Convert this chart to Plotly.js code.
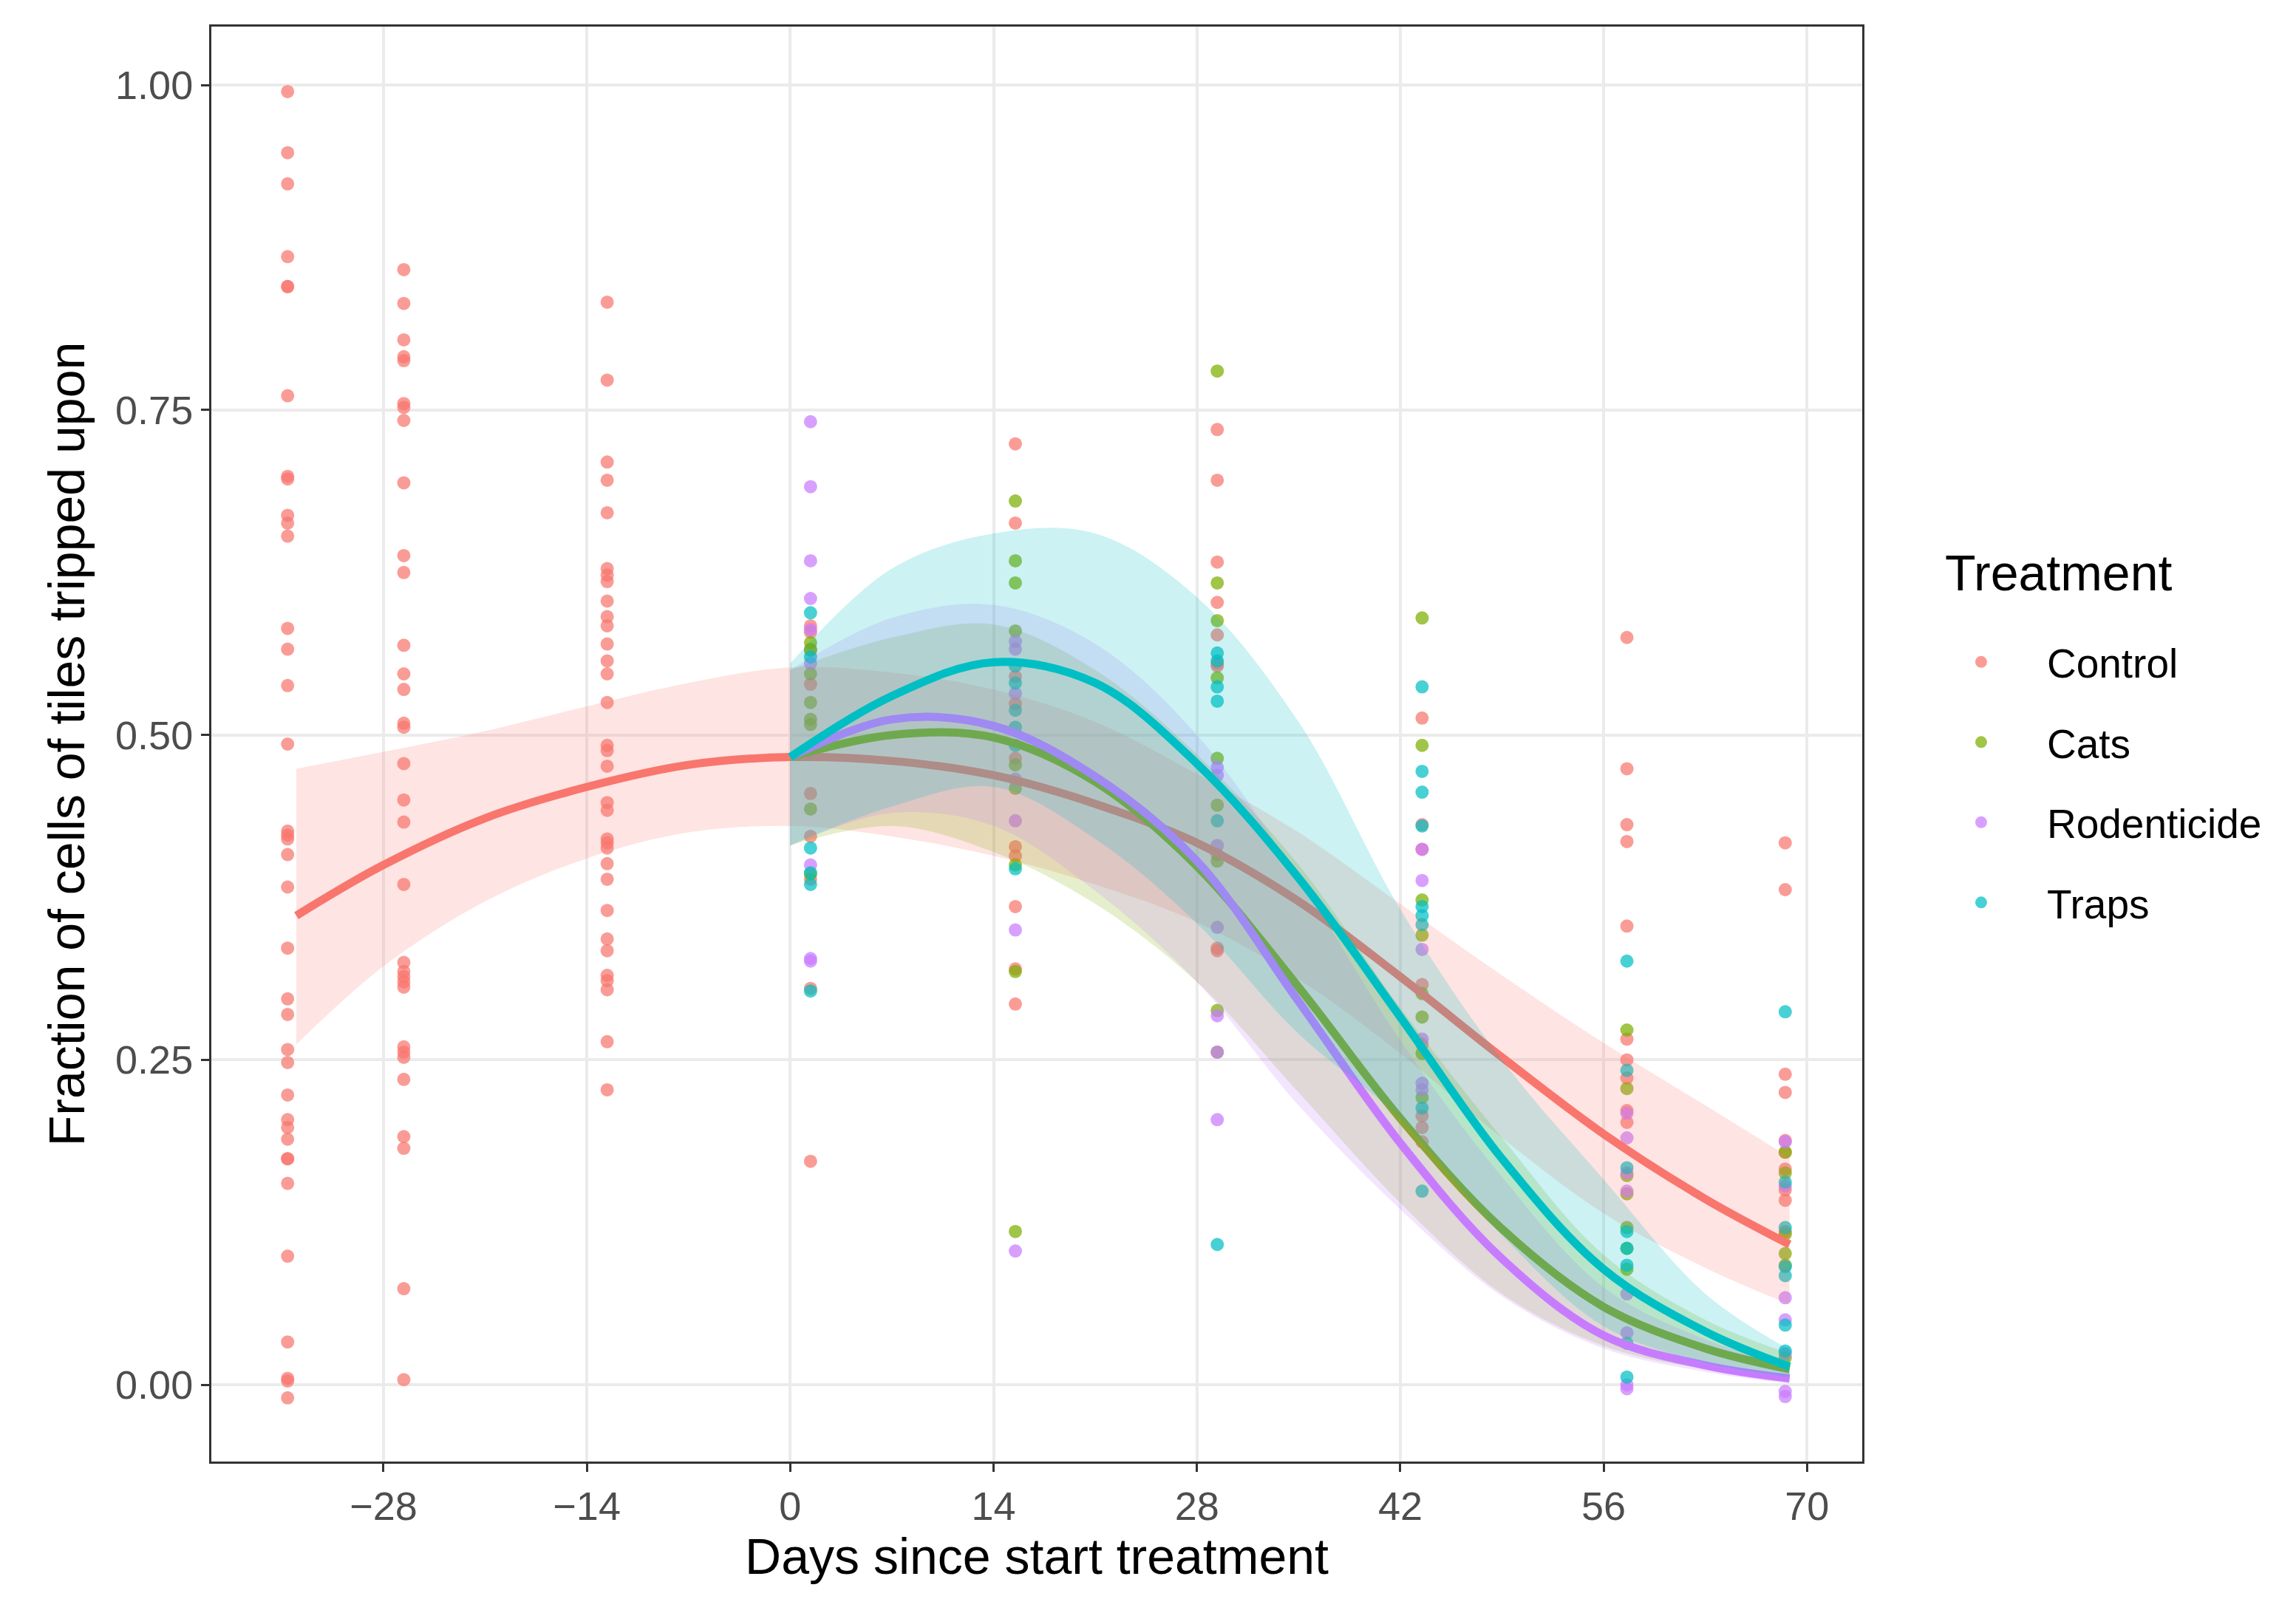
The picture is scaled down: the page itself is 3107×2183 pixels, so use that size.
<!DOCTYPE html>
<html>
<head>
<meta charset="utf-8">
<script src="https://cdn.plot.ly/plotly-3.0.1.min.js"></script>
<style>
  body { margin: 0; background: #fff; }
  #chart { width: 3107px; height: 2183px; }
</style>
</head>
<body>
<div id="chart"></div>
<script>
// sampling days (column centres of the point clouds)
const controlDays = [-34.6, -26.6, -12.6, 1.4, 15.5, 29.4, 43.5, 57.6, 68.5];
const treatDays = [1.4, 15.5, 29.4, 43.5, 57.6, 68.5];

// observed fractions, one list per sampling day
const controlObs = [
  [0.995,0.948,0.924,0.868,0.845,0.845,0.761,0.699,0.697,0.669,0.663,0.653,0.582,0.566,0.538,0.493,0.426,0.423,0.420,0.408,0.383,0.336,0.297,0.285,0.258,0.248,0.223,0.204,0.198,0.189,0.174,0.174,0.155,0.099,0.033,0.005,0.003,-0.010],
  [0.858,0.832,0.804,0.791,0.788,0.755,0.752,0.742,0.694,0.638,0.625,0.569,0.547,0.535,0.509,0.506,0.478,0.450,0.433,0.385,0.325,0.318,0.314,0.310,0.306,0.260,0.256,0.252,0.235,0.191,0.182,0.074,0.004],
  [0.833,0.773,0.710,0.696,0.671,0.628,0.623,0.618,0.603,0.591,0.584,0.570,0.557,0.547,0.525,0.492,0.488,0.476,0.448,0.442,0.420,0.417,0.413,0.401,0.389,0.365,0.343,0.334,0.315,0.311,0.304,0.264,0.227],
  [0.584,0.579,0.565,0.539,0.455,0.422,0.389,0.305,0.172],
  [0.724,0.663,0.545,0.524,0.482,0.414,0.407,0.368,0.320,0.293],
  [0.735,0.696,0.633,0.602,0.577,0.555,0.553,0.408,0.336,0.334],
  [0.513,0.431,0.412,0.308,0.262,0.207,0.198,0.187],
  [0.575,0.474,0.431,0.418,0.353,0.266,0.250,0.236,0.211,0.202],
  [0.417,0.381,0.239,0.225,0.188,0.179,0.166,0.150,0.142,0.118]
];
const catsObs = [
  [0.571,0.566,0.547,0.525,0.512,0.508,0.443,0.393],
  [0.680,0.634,0.617,0.580,0.477,0.459,0.400,0.318,0.118],
  [0.780,0.617,0.588,0.544,0.482,0.446,0.403,0.288,0.256],
  [0.590,0.492,0.373,0.346,0.301,0.283,0.255,0.221],
  [0.273,0.228,0.161,0.147,0.121,0.105,0.089],
  [0.179,0.163,0.116,0.101,0.092,0.021]
];
const rodentObs = [
  [0.741,0.691,0.634,0.605,0.581,0.555,0.400,0.328,0.326],
  [0.572,0.566,0.532,0.466,0.434,0.350,0.103],
  [0.475,0.469,0.415,0.352,0.284,0.256,0.204],
  [0.412,0.388,0.335,0.266,0.232,0.227],
  [0.209,0.190,0.163,0.149,0.070,0.040,0.000,-0.003],
  [0.187,0.153,0.067,0.050,0.024,-0.005,-0.009]
];
const trapsObs = [
  [0.594,0.560,0.488,0.413,0.394,0.385,0.303],
  [0.553,0.540,0.519,0.506,0.492,0.397],
  [0.563,0.557,0.537,0.526,0.434,0.108],
  [0.537,0.472,0.456,0.430,0.368,0.361,0.354,0.213,0.149],
  [0.326,0.242,0.167,0.118,0.105,0.092,0.032,0.006],
  [0.287,0.156,0.121,0.091,0.084,0.046,0.026]
];

// fitted curves and confidence bands
const controlFitDays = [-34,-28,-21,-14,-7,0,7,14,21,28,35,42,49,56,63,68.8];
const controlFit   = [0.361,0.400,0.436,0.460,0.477,0.483,0.480,0.469,0.447,0.417,0.372,0.314,0.252,0.193,0.143,0.108];
const controlUpper = [0.474,0.487,0.503,0.522,0.540,0.552,0.548,0.535,0.510,0.470,0.425,0.370,0.315,0.263,0.215,0.175];
const controlLower = [0.262,0.322,0.372,0.405,0.425,0.430,0.422,0.407,0.385,0.356,0.312,0.255,0.190,0.132,0.090,0.062];

const treatFitDays = [0,7,14,21,28,35,42,49,56,63,68.8];
const catsFit    = [0.483,0.500,0.498,0.464,0.399,0.306,0.205,0.120,0.060,0.028,0.012];
const catsUpper  = [0.550,0.575,0.585,0.550,0.485,0.400,0.290,0.190,0.100,0.050,0.024];
const catsLower  = [0.415,0.430,0.410,0.370,0.310,0.225,0.140,0.070,0.030,0.012,0.005];
const rodentFit   = [0.483,0.512,0.507,0.468,0.403,0.295,0.186,0.097,0.038,0.015,0.005];
const rodentUpper = [0.550,0.590,0.600,0.570,0.500,0.390,0.265,0.160,0.075,0.035,0.015];
const rodentLower = [0.415,0.440,0.430,0.380,0.310,0.215,0.135,0.068,0.028,0.010,0.001];
const trapsFit   = [0.483,0.530,0.556,0.540,0.478,0.390,0.283,0.174,0.089,0.041,0.014];
const trapsUpper = [0.555,0.628,0.655,0.655,0.606,0.510,0.366,0.250,0.158,0.070,0.027];
const trapsLower = [0.415,0.445,0.460,0.420,0.355,0.270,0.205,0.115,0.045,0.017,0.006];

const treatNames = ['Control', 'Cats', 'Rodenticide', 'Traps'];
const colours = ['#F8766D', '#7CAE00', '#C77CFF', '#00BFC4'];
const bands = ['rgba(248,118,109,0.2)', 'rgba(124,174,0,0.2)', 'rgba(199,124,255,0.2)', 'rgba(0,191,196,0.2)'];

function flatten(days, obs) {
    const x = [], y = [];
    obs.forEach((col, i) => col.forEach(v => { x.push(days[i]); y.push(v); }));
    return { x, y };
}

const observed = [
    flatten(controlDays, controlObs),
    flatten(treatDays, catsObs),
    flatten(treatDays, rodentObs),
    flatten(treatDays, trapsObs)
];
const fits = [
    [controlFitDays, controlFit, controlUpper, controlLower],
    [treatFitDays, catsFit, catsUpper, catsLower],
    [treatFitDays, rodentFit, rodentUpper, rodentLower],
    [treatFitDays, trapsFit, trapsUpper, trapsLower]
];

const data = [];
// points first, the smooths are drawn over them
treatNames.forEach((nome, i) => {
    data.push({
        x: observed[i].x, y: observed[i].y,
        type: 'scatter', mode: 'markers', name: nome,
        legendgroup: nome,
        marker: { color: colours[i], size: 18, opacity: 0.72 },
        hoverinfo: 'x+y+name'
    });
});
treatNames.forEach((nome, i) => {
    const [dx, fit, up, lo] = fits[i];
    data.push({
        x: dx, y: lo, type: 'scatter', mode: 'lines', showlegend: false,
        line: { width: 0, shape: 'spline', color: 'rgba(0,0,0,0)' }, hoverinfo: 'skip'
    });
    data.push({
        x: dx, y: up, type: 'scatter', mode: 'lines', showlegend: false,
        fill: 'tonexty', fillcolor: bands[i],
        line: { width: 0, shape: 'spline', color: 'rgba(0,0,0,0)' }, hoverinfo: 'skip'
    });
    data.push({
        x: dx, y: fit, type: 'scatter', mode: 'lines', showlegend: false,
        line: { width: 11, shape: 'spline', color: colours[i] }
    });
});

const fonte = 'Arial, "Liberation Sans", Helvetica, sans-serif';
const tickConfig = { family: fonte, size: 54, color: '#4D4D4D' };

const layout = {
    width: 3107,
    height: 2183,
    margin: { l: 286, r: 587, t: 36, b: 205 },
    paper_bgcolor: '#ffffff',
    plot_bgcolor: '#ffffff',
    font: { family: fonte, color: '#000000' },
    xaxis: {
        range: [-39.85, 73.8],
        tickvals: [-28, -14, 0, 14, 28, 42, 56, 70],
        tickfont: tickConfig,
        ticks: 'outside', ticklen: 11, tickwidth: 3, tickcolor: '#333333',
        showgrid: true, gridcolor: '#EBEBEB', gridwidth: 4,
        zeroline: false,
        showline: true, mirror: true, linecolor: '#333333', linewidth: 3,
        title: { text: 'Days since start treatment', font: { family: fonte, size: 68, color: '#000000' }, standoff: 12 }
    },
    yaxis: {
        range: [-0.059, 1.045],
        tickvals: [0, 0.25, 0.5, 0.75, 1],
        ticktext: ['0.00', '0.25', '0.50', '0.75', '1.00'],
        tickfont: tickConfig,
        ticks: 'outside', ticklen: 11, tickwidth: 3, tickcolor: '#333333',
        showgrid: true, gridcolor: '#EBEBEB', gridwidth: 4,
        zeroline: false,
        showline: true, mirror: true, linecolor: '#333333', linewidth: 3,
        title: { text: 'Fraction of cells of tiles tripped upon', font: { family: fonte, size: 68, color: '#000000' }, standoff: 20 }
    },
    showlegend: true,
    legend: {
        x: 1.0322, xanchor: 'left',
        y: 0.579, yanchor: 'top',
        traceorder: 'grouped',
        tracegroupgap: 34,
        itemwidth: 168,
        font: { family: fonte, size: 55, color: '#000000' },
        bgcolor: 'rgba(0,0,0,0)'
    },
    // legend heading placed on its own, ggplot leaves more room under it
    annotations: [{
        text: 'Treatment',
        xref: 'paper', yref: 'paper',
        x: 1.0492, xanchor: 'left',
        y: 0.6195, yanchor: 'middle',
        showarrow: false,
        font: { family: fonte, size: 68, color: '#000000' }
    }]
};

Plotly.newPlot('chart', data, layout, { displayModeBar: false });
</script>
</body>
</html>
